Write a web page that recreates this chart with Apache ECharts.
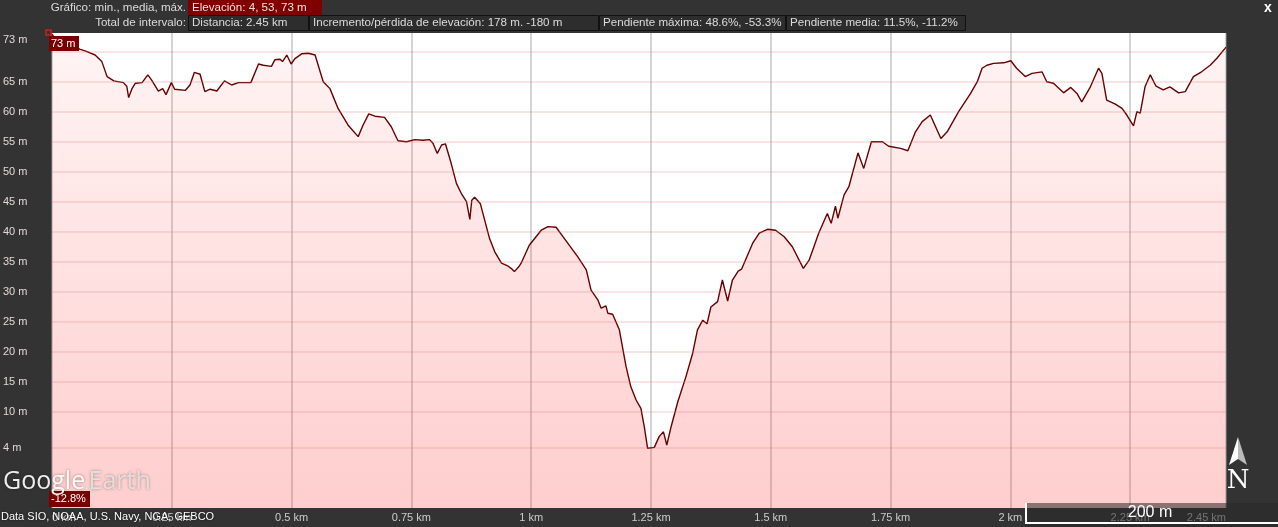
<!DOCTYPE html>
<html>
<head>
<meta charset="utf-8">
<script src="https://cdn.jsdelivr.net/npm/echarts@6/dist/echarts.min.js"></script>
<style>
html,body{margin:0;padding:0;background:#333333;}
#c{width:1278px;height:527px;}
</style>
</head>
<body>
<div id="c"></div>
<script>
// distance along path (m)
const dist = [0,4,59,69,90,104,115,129,149,156,160,167,174,188,200,208,222,231,238,249,256,278,288,297,309,319,330,344,360,375,389,415,431,441,458,465,476,481,490,499,507,521,535,549,566,580,597,618,639,649,661,674,694,708,722,740,757,774,788,795,804,813,821,833,844,854,865,872,876,882,894,913,924,938,952,958,965,974,979,996,1021,1035,1052,1069,1097,1115,1125,1139,1146,1156,1160,1170,1184,1198,1208,1219,1229,1236,1243,1257,1267,1276,1283,1292,1306,1323,1337,1347,1358,1367,1375,1389,1399,1410,1420,1432,1439,1462,1476,1493,1510,1528,1545,1568,1580,1600,1618,1626,1635,1640,1653,1663,1682,1694,1710,1733,1746,1771,1786,1802,1816,1833,1844,1855,1869,1892,1917,1931,1941,1951,1965,1986,2001,2013,2031,2045,2066,2076,2090,2111,2126,2139,2149,2167,2184,2191,2201,2219,2233,2243,2257,2264,2271,2281,2292,2304,2319,2333,2351,2365,2382,2399,2417,2431,2448,2450];
// elevation (m)
const elev = [73.0,72.5,70.45,70.2,69.5,68.4,65.9,65.2,64.9,64.3,62.4,63.9,64.8,64.9,66.2,65.3,63.5,63.9,62.9,64.9,63.8,63.6,64.5,66.6,66.3,63.4,63.8,63.5,65.2,64.5,64.9,64.9,68.0,67.8,67.6,68.7,68.8,68.4,69.5,68.0,68.9,69.7,69.8,69.5,65.05,63.9,60.6,57.8,55.9,57.8,59.7,59.3,59.1,57.55,55.2,55.05,55.4,55.3,55.4,54.8,53.1,54.5,54.7,51.45,48.1,46.45,45.05,42.1,45.3,45.8,44.7,38.95,36.7,34.8,34.3,33.95,33.4,34.2,34.8,37.8,40.3,40.9,40.8,38.95,35.9,33.7,30.3,28.7,27.3,27.7,26.45,26.3,23.7,17.55,14.2,12.0,10.6,7.55,3.95,4.1,5.9,6.7,4.5,7.55,11.7,15.9,19.8,23.7,25.3,24.7,27.5,28.4,32.0,28.5,32.0,33.5,33.8,38.1,39.8,40.45,40.3,39.2,37.55,33.95,35.3,39.8,43.1,41.45,44.3,42.3,46.2,47.55,53.2,50.6,55.05,55.05,54.3,53.95,53.55,56.7,58.4,59.5,57.55,55.6,56.8,60.05,63.1,65.05,67.3,67.8,68.1,68.2,68.55,67.3,65.9,66.45,66.7,65.05,64.8,63.2,64.1,63.1,61.7,64.2,67.3,66.45,62.0,61.3,60.6,59.5,57.7,60.05,59.8,64.2,66.2,64.3,63.7,64.2,63.2,63.4,65.9,66.7,67.8,68.95,70.6,70.8];
// y tick labels (m)
const yLabelVals = [73,65,60,55,50,45,40,35,30,25,20,15,10,4];
// horizontal grid values (m)
const yGridVals = [70,65,60,55,50,45,40,35,30,25,20,15,10,4];
// header texts
const headerRow1Label = 'Gráfico: min., media, máx.';
const headerRow1Value = 'Elevación: 4, 53, 73 m';
const headerRow2Label = 'Total de intervalo:';
const headerRow2Values = ['Distancia: 2.45 km','Incremento/pérdida de elevación: 178 m. -180 m','Pendiente máxima: 48.6%, -53.3%','Pendiente media: 11.5%, -11.2%'];

const FONT = '"Liberation Sans", Arial, sans-serif';
const HF = '11.6px ' + FONT;
const chart = echarts.init(document.getElementById('c'), null, {renderer:'canvas'});

const boxX = [188,309,599,786,966];
const g = [];
// header row 1
g.push({type:'text', x:186, y:8, style:{text:headerRow1Label, fill:'#dcdcdc', font:HF, textAlign:'right', textVerticalAlign:'middle'}});
g.push({type:'rect', shape:{x:188,y:0,width:134,height:15}, style:{fill:'#800000'}});
g.push({type:'text', x:192, y:8, style:{text:headerRow1Value, fill:'#f0e0e0', font:HF, textVerticalAlign:'middle'}});
// header row 2
g.push({type:'text', x:186, y:23, style:{text:headerRow2Label, fill:'#dcdcdc', font:HF, textAlign:'right', textVerticalAlign:'middle'}});
headerRow2Values.forEach((t,i)=>{
  g.push({type:'rect', shape:{x:boxX[i]+0.5,y:15.5,width:boxX[i+1]-boxX[i]-1,height:15}, style:{fill:'#2d2d2d', stroke:'#111', lineWidth:1}});
  g.push({type:'text', x:boxX[i]+4, y:23, style:{text:t, fill:'#dcdcdc', font:HF, textVerticalAlign:'middle'}});
});
// close x
g.push({type:'text', x:1268, y:8, style:{text:'x', fill:'#ffffff', font:'bold 14px '+FONT, textAlign:'center', textVerticalAlign:'middle'}});
// start marker
g.push({type:'rect', shape:{x:46,y:30,width:5,height:5}, style:{fill:'none', stroke:'#d02020', lineWidth:1.5}});
// 73 m label box
g.push({type:'rect', shape:{x:49,y:36,width:30,height:15}, style:{fill:'#7a0000'}});
g.push({type:'text', x:51, y:44, style:{text:'73 m', fill:'#ffffff', font:'11px '+FONT, textVerticalAlign:'middle'}});
// -12.8% box
g.push({type:'rect', shape:{x:49,y:491,width:41,height:16}, style:{fill:'#7a0000'}});
g.push({type:'text', x:51, y:499, style:{text:'-12.8%', fill:'#ffffff', font:'11px '+FONT, textVerticalAlign:'middle'}});
// Google Earth logo
g.push({type:'text', x:3, y:482, style:{text:'{a|Google} {b|Earth}', textVerticalAlign:'middle', textShadowColor:'rgba(0,0,0,0.45)', textShadowBlur:3, rich:{a:{fontFamily:'"Open Sans", "Liberation Sans", Arial', fontSize:25, fill:'rgba(255,255,255,0.92)'}, b:{fontFamily:'"Open Sans", "Liberation Sans", Arial', fontSize:25, fill:'rgba(232,232,232,0.85)'}}}});
// attribution
g.push({type:'text', x:1, y:517, style:{text:'Data SIO, NOAA, U.S. Navy, NGA, GEBCO', fill:'#ffffff', font:'11px '+FONT, textVerticalAlign:'middle', textShadowColor:'rgba(0,0,0,0.8)', textShadowBlur:2}});
// scale bar
g.push({type:'rect', shape:{x:1025,y:503,width:253,height:24}, style:{fill:'rgba(40,40,40,0.55)'}});
g.push({type:'polyline', shape:{points:[[1026,503],[1026,523],[1278,523]]}, style:{stroke:'#ffffff', lineWidth:2, fill:'none'}});
g.push({type:'text', x:1150, y:513, style:{text:'200 m', fill:'#ffffff', font:'16px '+FONT, textAlign:'center', textVerticalAlign:'middle'}});
// north arrow
g.push({type:'polygon', shape:{points:[[1238,437],[1229,465],[1238,459]]}, style:{fill:'#ffffff'}});
g.push({type:'polygon', shape:{points:[[1238,437],[1247,465],[1238,459]]}, style:{fill:'#bbbbbb'}});
g.push({type:'text', x:1238, y:481, style:{text:'N', fill:'#ffffff', font:'26px "DejaVu Serif", "Liberation Serif", serif', textAlign:'center', textVerticalAlign:'middle'}});
g.forEach(e=>{ e.z = 100; });

const option = {
  backgroundColor:'#333333',
  animation:false,
  grid:{left:50, right:52, top:33, bottom:19, show:true, backgroundColor:'#ffffff', borderWidth:0},
  xAxis:{
    type:'value', min:0, max:2450, interval:250,
    axisLine:{show:false}, axisTick:{show:false},
    axisLabel:{color:'#cccccc', fontSize:11, fontFamily:FONT, margin:4, alignMinLabel:'left', alignMaxLabel:'right',
      formatter:v=>(v/1000)+' km'},
    splitLine:{show:true, lineStyle:{color:'rgba(160,160,160,0.45)', width:2}}
  },
  yAxis:{
    type:'value', min:-6, max:73.17,
    axisLine:{show:false}, axisTick:{show:false},
    splitLine:{show:false},
    axisLabel:{customValues:yLabelVals, color:'#e2d6d6', fontSize:11, fontFamily:FONT, align:'left', margin:49,
      formatter:v=> v===73 ? '{t|73 m}' : v+' m',
      rich:{t:{padding:[12,0,0,0], color:'#e2d6d6', fontSize:11, fontFamily:FONT}}}
  },
  graphic:{elements:g},
  series:[{
    type:'line',
    data:dist.map((d,i)=>[d, elev[i]]),
    showSymbol:false,
    smooth:false,
    lineStyle:{color:'#6a0000', width:1.4},
    areaStyle:{origin:'start', color:new echarts.graphic.LinearGradient(0,0,0,1,[
      {offset:0, color:'rgba(255,40,40,0.07)'},
      {offset:1, color:'rgba(255,40,40,0.33)'}
    ])},
    markLine:{silent:true, symbol:'none', label:{show:false},
      lineStyle:{type:'solid', color:'rgba(225,120,120,0.2)', width:2},
      data:yGridVals.map(v=>({yAxis:v}))},
    z:2
  }]
};
chart.setOption(option);
</script>
</body>
</html>
